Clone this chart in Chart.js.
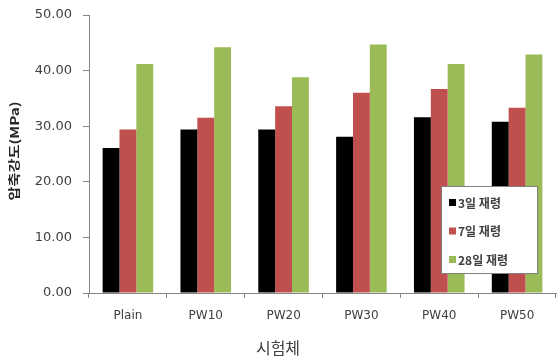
<!DOCTYPE html>
<html>
<head>
<meta charset="utf-8">
<script src="https://cdn.jsdelivr.net/npm/chart.js@4/dist/chart.umd.min.js"></script>
<style>
  html, body { margin: 0; padding: 0; background: #ffffff; }
  #wrap { width: 557px; height: 360px; position: relative; }
</style>
</head>
<body>
<div id="wrap"><canvas id="c" width="557" height="360"></canvas></div>
<script>
// Specimens and compressive strength (MPa) by curing age
const categories = ['Plain', 'PW10', 'PW20', 'PW30', 'PW40', 'PW50'];
const day3 = [26.1, 29.4, 29.4, 28.1, 31.6, 30.8];
const day7 = [29.4, 31.5, 33.6, 36.0, 36.7, 33.3];
const day28 = [41.2, 44.2, 38.8, 44.7, 41.2, 42.9];
const seriesNames = ['3일 재령', '7일 재령', '28일 재령'];
const yTicks = [0, 10, 20, 30, 40, 50];
const yTitle = '압축강도(MPa)';
const xTitle = '시험체';

const colors = ['#000000', '#C0504D', '#9BBB59'];
const labelFont = "'DejaVu Sans', 'Noto Sans CJK KR', sans-serif";

// Boxed legend inside the plot area (lower right) plus the axis titles
const boxLegend = {
  id: 'boxLegend',
  afterDraw(chart) {
    const ctx = chart.ctx;
    const x = 441, y = 186, w = 96, h = 87;
    ctx.save();
    ctx.fillStyle = '#ffffff';
    ctx.fillRect(x, y, w, h);
    ctx.strokeStyle = '#7f7f7f';
    ctx.lineWidth = 1;
    ctx.strokeRect(x + 0.5, y + 0.5, w, h);
    ctx.font = "bold 12px 'Noto Sans CJK KR', sans-serif";
    ctx.textBaseline = 'middle';
    chart.data.datasets.forEach((ds, i) => {
      const cy = 203 + i * 28.5;
      ctx.fillStyle = ds.backgroundColor;
      ctx.fillRect(449, cy - 4, 7, 7);
      ctx.fillStyle = '#404040';
      ctx.fillText(ds.label, 458, cy);
    });
    // x axis title
    ctx.fillStyle = '#404040';
    ctx.font = "16px 'Noto Sans CJK KR', sans-serif";
    ctx.textAlign = 'center';
    ctx.fillText(xTitle, 278, 348);
    // y axis title, rotated and stretched along its length
    ctx.translate(14, 151);
    ctx.rotate(-Math.PI / 2);
    ctx.scale(1.27, 1);
    ctx.font = "bold 12px 'Noto Sans CJK KR', sans-serif";
    ctx.fillStyle = '#262626';
    ctx.fillText(yTitle, 0, 0);
    ctx.restore();
  }
};

new Chart(document.getElementById('c'), {
  type: 'bar',
  data: {
    labels: categories,
    datasets: [day3, day7, day28].map((d, i) => ({
      label: seriesNames[i],
      data: d,
      backgroundColor: colors[i],
      borderWidth: 0,
      categoryPercentage: 0.65,
      barPercentage: 1.0
    }))
  },
  options: {
    responsive: false,
    animation: false,
    devicePixelRatio: 1,
    layout: { padding: { left: 0, right: 1, top: 15, bottom: 0 } },
    plugins: {
      legend: { display: false },
      tooltip: { enabled: false }
    },
    scales: {
      x: {
        grid: {
          display: true,
          drawOnChartArea: false,
          drawTicks: true,
          tickLength: 5,
          color: '#868686',
          offset: true
        },
        border: { color: '#868686', width: 1 },
        ticks: {
          color: '#404040',
          font: { family: labelFont, size: 12 },
          padding: 11,
          maxRotation: 0
        },
        afterFit(scale) {
          scale.height = 67;
          scale.paddingLeft = 0;
          scale.paddingRight = 0;
        }
      },
      y: {
        min: 0,
        max: 50,
        afterBuildTicks(scale) { scale.ticks = yTicks.map(v => ({ value: v })); },
        grid: {
          display: true,
          drawOnChartArea: false,
          drawTicks: true,
          tickLength: 6,
          color: '#868686'
        },
        border: { color: '#868686', width: 1 },
        ticks: {
          color: '#404040',
          font: { family: labelFont, size: 13 },
          padding: 11,
          callback: v => Number(v).toFixed(2)
        },
        afterFit(scale) {
          scale.width = 89;
          scale.paddingTop = 0;
          scale.paddingBottom = 0;
        }
      }
    }
  },
  plugins: [boxLegend]
});
</script>
</body>
</html>
